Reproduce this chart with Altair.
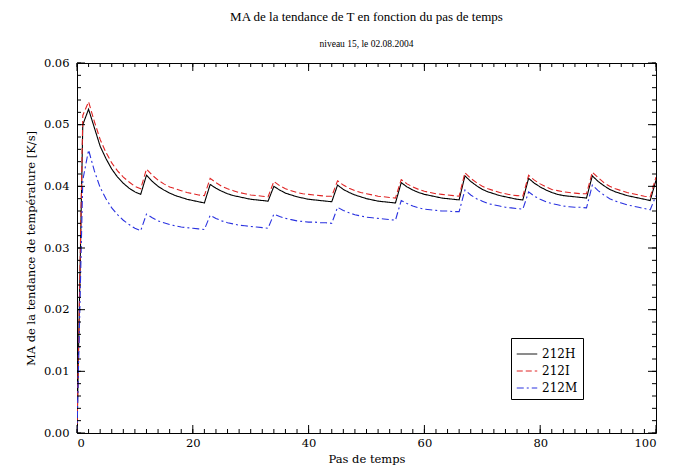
import altair as alt
import pandas as pd

# Time step index
steps = list(range(0, 101))

# Mean absolute temperature tendency [K/s] for each run
ma_212H = [
    0.0, 0.0500,
    0.0525, 0.0495, 0.0465, 0.0445, 0.0428, 0.0415, 0.0405, 0.0397, 0.0391, 0.0387,
    0.0418, 0.0408, 0.0400, 0.0394, 0.0389, 0.0385, 0.0382, 0.0379, 0.0377, 0.0375, 0.0373,
    0.0403, 0.0397, 0.0392, 0.0388, 0.0385, 0.0383, 0.0381, 0.0379, 0.0378, 0.0377, 0.0376,
    0.0400, 0.0394, 0.0389, 0.0386, 0.0383, 0.0381, 0.0379, 0.0378, 0.0377, 0.0376, 0.0375,
    0.0402, 0.0395, 0.0390, 0.0386, 0.0383, 0.0380, 0.0378, 0.0376, 0.0375, 0.0374, 0.0373,
    0.0406, 0.0399, 0.0394, 0.0390, 0.0387, 0.0385, 0.0383, 0.0381, 0.0380, 0.0379, 0.0378,
    0.0417, 0.0408, 0.0401, 0.0395, 0.0391, 0.0388, 0.0385, 0.0383, 0.0381, 0.0379, 0.0378,
    0.0413, 0.0405, 0.0399, 0.0394, 0.0390, 0.0387, 0.0385, 0.0384, 0.0383, 0.0382, 0.0381,
    0.0417, 0.0408, 0.0401, 0.0395, 0.0391, 0.0388, 0.0385, 0.0383, 0.0381, 0.0379, 0.0377,
    0.0410,
]
ma_212I = [
    0.0, 0.0515,
    0.0537, 0.0505, 0.0476, 0.0455, 0.0438, 0.0425, 0.0415, 0.0407, 0.0400, 0.0396,
    0.0428, 0.0418, 0.0410, 0.0404, 0.0399, 0.0396, 0.0393, 0.0390, 0.0388, 0.0386, 0.0385,
    0.0413, 0.0406, 0.0400, 0.0396, 0.0393, 0.0390, 0.0388, 0.0386, 0.0385, 0.0384, 0.0383,
    0.0408, 0.0401, 0.0396, 0.0393, 0.0390, 0.0388, 0.0387, 0.0386, 0.0385, 0.0384, 0.0384,
    0.0409, 0.0402, 0.0397, 0.0393, 0.0390, 0.0388, 0.0386, 0.0384, 0.0383, 0.0382, 0.0381,
    0.0411, 0.0404, 0.0399, 0.0395, 0.0392, 0.0390, 0.0388, 0.0387, 0.0386, 0.0385, 0.0384,
    0.0422, 0.0413, 0.0406, 0.0400, 0.0396, 0.0393, 0.0390, 0.0388, 0.0386, 0.0385, 0.0384,
    0.0418, 0.0410, 0.0404, 0.0399, 0.0395, 0.0393, 0.0391, 0.0390, 0.0389, 0.0388, 0.0388,
    0.0423, 0.0414, 0.0406, 0.0400, 0.0396, 0.0393, 0.0390, 0.0388, 0.0386, 0.0384, 0.0383,
    0.0415,
]
ma_212M = [
    0.0, 0.0410,
    0.0459, 0.0425, 0.0398, 0.0380, 0.0365, 0.0354, 0.0345, 0.0338, 0.0332, 0.0328,
    0.0355, 0.0349, 0.0344, 0.0341, 0.0338, 0.0336, 0.0334, 0.0333, 0.0332, 0.0331, 0.0330,
    0.0353, 0.0348, 0.0344, 0.0341, 0.0339, 0.0337, 0.0336, 0.0335, 0.0334, 0.0333, 0.0332,
    0.0355, 0.0351, 0.0348, 0.0346, 0.0344, 0.0343, 0.0342, 0.0342, 0.0341, 0.0341, 0.0340,
    0.0366, 0.0361, 0.0357, 0.0354, 0.0352, 0.0350, 0.0349, 0.0348, 0.0347, 0.0346, 0.0345,
    0.0377, 0.0372, 0.0368, 0.0365, 0.0363, 0.0362, 0.0361, 0.0360, 0.0360, 0.0359, 0.0359,
    0.0394, 0.0386, 0.0380, 0.0376, 0.0372, 0.0370, 0.0368, 0.0366, 0.0365, 0.0364, 0.0363,
    0.0391, 0.0384, 0.0379, 0.0375, 0.0372, 0.0370, 0.0368, 0.0367, 0.0366, 0.0366, 0.0365,
    0.0402, 0.0393, 0.0386, 0.0380, 0.0376, 0.0373, 0.0370, 0.0368, 0.0366, 0.0364, 0.0362,
    0.0385,
]

runs = ["212H", "212I", "212M"]
run_colors = ["#000000", "#e02424", "#2a32e0"]
run_dashes = [[1, 0], [6, 3], [7, 3, 2, 3]]

# Tick positions (labelled and minor)
x_labels = [0, 20, 40, 60, 80, 100]
x_minor = list(range(0, 101, 2))
y_labels = [0.00, 0.01, 0.02, 0.03, 0.04, 0.05, 0.06]
y_minor = [round(0.002 * k, 3) for k in range(0, 31)]

W, H = 579, 370
SERIF = "Liberation Serif"
WIDE_SERIF = "DejaVu Serif"

df = pd.DataFrame({"pas": steps, "212H": ma_212H, "212I": ma_212I, "212M": ma_212M})
long = df.melt(id_vars="pas", var_name="run", value_name="ma")

xscale = alt.Scale(domain=[0, 100], nice=False, zero=False)
yscale = alt.Scale(domain=[0, 0.06], nice=False)
axis_style = dict(
    grid=False, ticks=False, domain=False,
    labelFont=WIDE_SERIF, labelFontSize=11.5, labelColor="black",
    titleFont=WIDE_SERIF, titleFontSize=11.5, titleFontWeight="normal", titleColor="black",
)
xaxis = alt.Axis(values=x_labels, format="d", labelPadding=4, titlePadding=5, **axis_style)
yaxis = alt.Axis(values=y_labels, format=".2f", labelPadding=8, titlePadding=7, **axis_style)
XTITLE = "Pas de temps"
YTITLE = "MA de la tendance de température [K/s]"


def xenc(field):
    return alt.X(field, scale=xscale, title=XTITLE, axis=xaxis)


def yenc(field):
    return alt.Y(field, scale=yscale, title=YTITLE, axis=yaxis)


lines = alt.Chart(long).mark_line(strokeWidth=1.1, clip=True).encode(
    x=xenc("pas:Q"),
    y=yenc("ma:Q"),
    color=alt.Color("run:N", scale=alt.Scale(domain=runs, range=run_colors), title=None),
    strokeDash=alt.StrokeDash("run:N", scale=alt.Scale(domain=runs, range=run_dashes), title=None),
)


def x_ticks(vals, length):
    d = pd.DataFrame({"pas": vals})
    bottom = alt.Chart(d).mark_rule(color="black", strokeWidth=1).encode(
        x=xenc("pas:Q"), y=alt.value(H), y2=alt.value(H - length))
    top = alt.Chart(d).mark_rule(color="black", strokeWidth=1).encode(
        x=xenc("pas:Q"), y=alt.value(0), y2=alt.value(length))
    return [bottom, top]


def y_ticks(vals, length):
    d = pd.DataFrame({"ma": vals})
    left = alt.Chart(d).mark_rule(color="black", strokeWidth=1).encode(
        y=yenc("ma:Q"), x=alt.value(0), x2=alt.value(length))
    right = alt.Chart(d).mark_rule(color="black", strokeWidth=1).encode(
        y=yenc("ma:Q"), x=alt.value(W), x2=alt.value(W - length))
    return [left, right]


layers = [lines] + x_ticks(x_minor, 4) + x_ticks(x_labels, 8) + y_ticks(y_minor, 4) + y_ticks(y_labels, 8)

chart = alt.layer(*layers).properties(
    width=W,
    height=H,
    autosize=alt.AutoSizeParams(type="none"),
    padding={"left": 77, "top": 63, "right": 28, "bottom": 38},
    title=alt.TitleParams(
        text="MA de la tendance de T en fonction du pas de temps",
        subtitle="niveau 15, le 02.08.2004",
        font=SERIF, fontSize=13, fontWeight="normal", color="black",
        subtitleFont=SERIF, subtitleFontSize=9.5, subtitleColor="black",
        anchor="middle", offset=9, subtitlePadding=15,
    ),
).configure_view(
    stroke="black", strokeWidth=1
).configure_legend(
    orient="none", legendX=434, legendY=275,
    strokeColor="black", fillColor="white", padding=5, cornerRadius=0,
    symbolType="stroke", symbolSize=420, symbolStrokeWidth=1,
    labelFont=WIDE_SERIF, labelFontSize=12, labelColor="black", rowPadding=0,
)

chart.save("out.html", embed_options={"renderer": "svg", "actions": False})
